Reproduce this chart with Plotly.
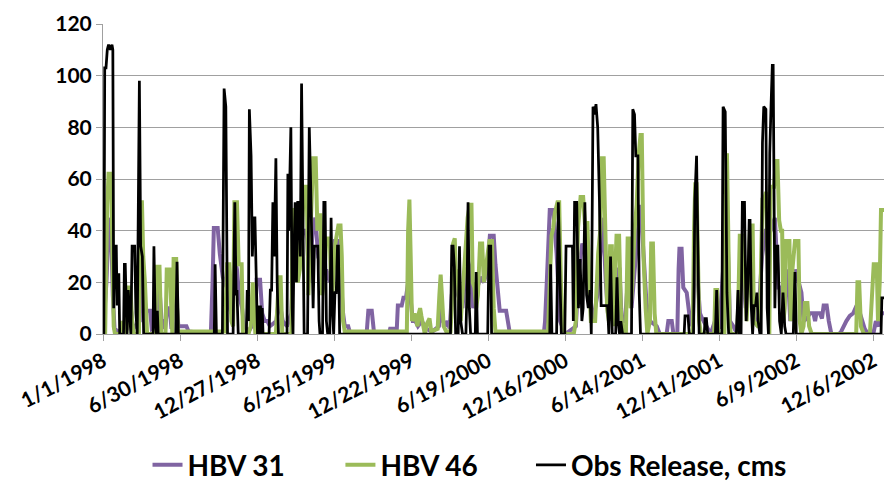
import pandas as pd
import plotly.graph_objects as go

# ---- data (day offset from 1/1/1998, value in cms) ----
obs_day = [0,2,4,7,10,13,17,21,23,25,28,31,33,35,37,39,48,50,52,54,56,59,62,65,68,74,77,80,85,88,92,95,117,119,122,125,127,129,170,173,176,260,262,265,279,283,287,291,304,308,311,313,316,335,337,340,342,346,349,352,355,358,361,364,366,368,370,372,374,388,391,394,397,400,404,407,410,430,432,434,436,439,442,444,446,449,452,455,458,461,464,467,470,478,482,485,488,491,494,502,505,507,513,516,519,522,525,530,533,536,539,542,545,548,550,553,
           812,815,818,821,824,830,833,836,840,848,851,853,856,859,870,872,875,899,902,906,908,
           1044,1046,1049,1060,1064,1068,1071,1079,1082,1097,1099,1102,1107,1111,1115,1119,1122,1126,1130,1134,1138,1141,1145,1149,1152,1156,1160,1164,1179,1182,1186,1190,1198,1201,1204,1207,1210,1214,1235,1238,1242,1245,1250,1253,1256,1358,1360,1367,1370,1380,1383,1387,1390,1393,1405,1407,1410,1413,1431,1434,1437,1446,1449,1454,1458,1462,1480,1484,1487,1491,1494,1499,1503,1507,1510,1512,1515,1518,1521,1525,1528,1531,1535,1538,1541,1544,1549,1552,1555,1558,1561,1564,1566,1568,1570,1573,1577,1581,1585,1589,1593,1596,1613,1617,1620,1818,1820,1825]
obs_val = [0,0,103,103,110,112,110,112,110,10,34,34,11,23,23,0,0,27,27,5,0,17,10,0,34,34,8,0,98,34,30,0,0,34,5,0,9,0,0,28,0,0,27,0,0,95,88,0,0,51,15,17,0,0,17,5,87,69,30,45,45,15,0,11,0,11,0,10,0,0,17,17,51,30,68,20,0,0,62,40,62,80,10,0,30,51,20,51,51,30,97,50,0,0,80,60,34,10,34,34,5,0,0,51,51,5,0,0,45,10,0,16,16,34,34,0,
           0,34,34,26,0,0,34,5,0,0,20,51,10,0,0,24,0,0,34,34,0,
           0,27,0,0,51,20,0,0,34,34,5,51,51,10,29,5,10,51,15,10,17,0,88,85,89,80,52,11,11,0,30,0,0,22,5,0,5,0,0,87,85,69,69,16,0,0,7,7,0,0,52,69,30,0,0,6,6,0,0,17,0,0,88,86,16,0,0,17,0,0,51,51,5,20,44,44,10,0,11,11,16,5,0,0,74,88,87,10,0,70,88,104,104,70,10,34,34,5,0,16,3,0,0,24,0,0,14,14]

hbv46_day = [0,5,10,13,19,22,25,28,40,45,50,55,58,64,68,72,84,87,91,94,98,103,122,125,132,136,146,149,156,160,162,165,171,175,180,285,290,295,300,304,307,313,317,324,327,340,345,350,353,356,404,408,411,415,419,440,444,451,455,460,466,470,476,480,485,491,497,501,504,508,512,516,522,530,534,538,543,550,555,558,561,565,
             710,713,716,719,722,728,735,738,741,744,748,752,757,763,767,782,786,789,792,796,802,812,815,818,822,825,828,832,836,840,846,852,857,861,864,868,872,876,881,886,890,894,897,903,909,913,917,
             1040,1044,1048,1052,1056,1062,1066,1070,1074,1080,1100,1105,1110,1116,1122,1126,1132,1136,1140,1150,1157,1162,1166,1170,1174,1178,1182,1185,1189,1192,1196,1200,1206,1210,1214,1222,1226,1230,1233,1237,1242,1247,1252,1256,1259,1263,1268,1272,1278,1281,1285,1289,1293,1378,1381,1384,1387,1390,1393,1397,1428,1431,1435,1438,1452,1455,1458,1461,1464,1467,1482,1485,1488,1496,1500,1504,1508,1512,1518,1521,1530,1535,1538,1541,1545,1549,1553,1557,1560,1568,1572,1576,1580,1584,1587,1590,1593,1596,1604,1607,1611,1617,1625,1628,1632,1637,1640,1646,1650,1656,1760,1763,1767,1771,1778,1792,1796,1801,1808,1811,1815,1818,1825]
hbv46_val = [0,0,50,62,62,30,3,0,0,5,3,0,18,18,5,0,0,51,51,30,20,0,0,26,26,0,0,25,25,0,0,29,29,0,1,1,27,27,5,3,51,51,27,27,0,0,3,20,5,0,0,10,22,22,0,0,48,48,20,25,50,57,57,15,40,68,68,40,46,46,15,20,37,37,10,20,35,42,42,30,5,1,
             1,40,52,30,5,8,3,8,10,7,3,0,4,6,1,2,15,23,15,3,1,1,10,35,37,20,25,10,5,15,30,45,50,50,20,18,10,15,35,35,20,25,31,36,36,10,1,
             1,20,38,41,47,51,51,20,3,0,0,5,41,53,53,43,43,20,5,5,31,40,68,68,31,10,5,34,34,3,20,38,38,10,1,1,37,37,10,20,40,50,70,77,77,30,10,0,5,35,35,8,0,0,40,58,58,30,5,0,0,17,17,0,0,50,70,40,5,0,0,15,38,38,20,5,20,42,42,5,3,3,30,52,52,55,30,0,57,57,67,67,44,40,40,5,10,36,36,5,25,36,36,5,0,3,12,12,3,0,0,20,20,3,0,0,12,27,27,5,20,48,48]

hbv31_day = [0,8,14,19,23,27,35,56,60,65,70,86,90,94,99,103,110,114,124,128,133,137,141,145,150,156,160,165,171,176,184,195,200,240,252,256,259,268,273,280,289,293,300,308,313,318,325,330,340,355,359,367,372,378,384,390,405,410,416,420,430,440,446,452,460,468,476,482,490,496,503,508,515,522,530,538,542,550,556,561,565,573,578,616,620,628,633,668,671,682,686,689,698,702,708,713,718,724,730,736,745,755,770,785,790,795,800,805,810,815,822,830,840,850,858,865,875,882,890,898,904,913,917,921,927,942,947,951,
             1030,1033,1037,1044,1052,1060,1068,1074,1080,1105,1112,1120,1128,1136,1145,1155,1162,1168,1175,1180,1186,1192,1200,1207,1212,1220,1228,1235,1245,1255,1262,1270,1278,1294,1301,1317,1321,1329,1333,1342,1345,1347,1352,1356,1364,1372,1378,1384,1390,1395,1400,1410,1420,1430,1436,1440,1455,1460,1465,1473,1482,1488,1495,1502,1510,1517,1522,1530,1540,1548,1560,1570,1578,1586,1590,1600,1606,1618,1625,1632,1637,1645,1652,1660,1664,1667,1675,1680,1684,1691,1696,1702,1720,1725,1737,1745,1753,1761,1767,1773,1780,1788,1800,1806,1812,1818,1825]
hbv31_val = [0,20,45,40,15,2,1,2,12,10,2,5,35,25,10,9,9,2,3,18,15,5,5,2,10,10,2,15,15,3,3,3,1,0,0,20,41,41,31,22,18,12,8,30,25,15,10,3,1,5,21,21,8,5,5,3,5,12,9,5,3,8,30,30,30,40,40,20,40,45,30,30,20,25,20,28,36,36,20,8,3,3,0,0,9,9,1,0,2,2,0,11,11,14,14,20,15,5,5,3,5,2,1,3,10,5,3,5,2,15,25,15,10,30,25,10,18,22,20,25,38,38,27,20,9,9,3,0,
             0,5,20,48,48,31,5,2,0,3,25,35,30,15,5,15,30,45,20,8,20,5,25,25,5,5,25,10,30,50,34,12,5,3,0,0,5,5,0,0,25,33,33,18,16,5,3,35,20,8,6,3,0,5,8,2,40,35,5,3,0,25,25,10,20,25,5,3,30,40,40,45,18,18,8,25,5,25,20,16,5,6,8,8,5,8,8,6,11,11,5,0,0,1,5,7,8,11,9,6,2,0,0,5,3,8,8]

tick_labels = ["1/1/1998", "6/30/1998", "12/27/1998", "6/25/1999", "12/22/1999",
               "6/19/2000", "12/16/2000", "6/14/2001", "12/11/2001", "6/9/2002", "12/6/2002"]

series_names = ["HBV 31", "HBV 46", "Obs Release, cms"]

# ---- build ----
base = pd.Timestamp("1998-01-01")
def to_dates(days):
    return base + pd.to_timedelta(days, unit="D")

tick_vals = pd.to_datetime(tick_labels, format="%m/%d/%Y")

FONT = "Lato"
fig = go.Figure()
fig.add_trace(go.Scatter(x=to_dates(hbv31_day), y=hbv31_val, mode="lines", name=series_names[0],
                         line=dict(color="#8064A2", width=4), legend="legend"))
fig.add_trace(go.Scatter(x=to_dates(hbv46_day), y=hbv46_val, mode="lines", name=series_names[1],
                         line=dict(color="#9BBB59", width=4), legend="legend2"))
fig.add_trace(go.Scatter(x=to_dates(obs_day), y=obs_val, mode="lines", name=series_names[2],
                         line=dict(color="#000000", width=2.75), legend="legend3"))

leg_font = dict(family=FONT, size=28, color="black", weight="bold")
def leg(xpos):
    return dict(orientation="h", x=xpos, xanchor="left", y=-0.423, yanchor="middle",
                font=leg_font, bgcolor="rgba(0,0,0,0)")

fig.update_layout(
    width=885, height=495,
    margin=dict(l=103, r=1, t=24, b=161),
    paper_bgcolor="white", plot_bgcolor="white",
    font=dict(family=FONT, size=21, color="black", weight="bold"),
    showlegend=True,
    legend=leg(0.057), legend2=leg(0.304), legend3=leg(0.548),
)
fig.update_xaxes(
    type="date",
    range=[base, base + pd.Timedelta(days=1825)],
    tickvals=tick_vals, ticktext=tick_labels, tickangle=-28,
    showgrid=False, showline=True, linecolor="#A0A0A0", linewidth=1,
    ticks="outside", ticklen=6, tickcolor="#A0A0A0",
    tickfont=dict(family=FONT, size=21, color="black", weight="bold"),
)
fig.update_yaxes(
    range=[0, 120], dtick=20, tick0=0,
    showgrid=True, gridcolor="#A0A0A0", gridwidth=1,
    showline=True, linecolor="#A0A0A0", linewidth=1,
    ticks="outside", ticklen=6, tickcolor="#A0A0A0",
    zeroline=False,
    tickfont=dict(family=FONT, size=21, color="black", weight="bold"),
)

fig.write_html("out.html")
